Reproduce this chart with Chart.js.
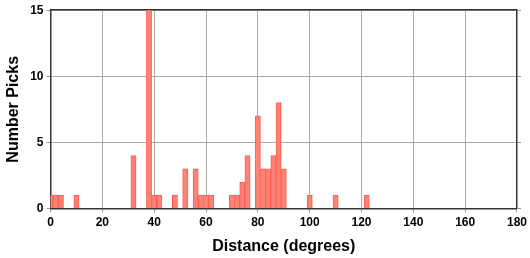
<!DOCTYPE html>
<html>
<head>
<meta charset="utf-8">
<script src="https://cdn.jsdelivr.net/npm/chart.js@4"></script>
<style>
  body { margin: 0; background: #fff; }
  #wrap { width: 530px; height: 258px; }
</style>
</head>
<body>
<div id="wrap"><canvas id="myChart"></canvas></div>
<script>
// histogram bins (2 degree wide, centred on even degrees)
const binCentres = [0, 2, 4, 10, 32, 38, 40, 42, 48, 52, 56, 58, 60, 62, 70, 72, 74, 76, 80, 82, 84, 86, 88, 90, 100, 110, 122];
const picks      = [1, 1, 1, 1, 4, 15, 1, 1, 1, 3, 3, 1, 1, 1, 1, 1, 2, 4, 7, 3, 3, 4, 8, 3, 1, 1, 1];
const xTicks = [0, 20, 40, 60, 80, 100, 120, 140, 160, 180];
const yTicks = [0, 5, 10, 15];

const tickFont = { family: 'Liberation Sans', size: 12, weight: 'bold' };
const titleFont = { family: 'Liberation Sans', size: 16, weight: 'bold' };

const points = binCentres.map(function (c, i) {
  return { x: c, y: picks[i] };
});

const frame = { color: '#333', width: 1.5 };

const config = {
  type: 'bar',
  data: {
    datasets: [{
      data: points,
      backgroundColor: '#ff8275',
      borderColor: '#ff5e52',
      borderWidth: 1,
      borderSkipped: 'bottom',
      barPercentage: 1,
      categoryPercentage: 1,
      grouped: false
    }]
  },
  options: {
    responsive: true,
    maintainAspectRatio: false,
    animation: false,
    layout: { autoPadding: false, padding: { top: 4, right: 7, left: 4, bottom: 0 } },
    plugins: { legend: { display: false }, tooltip: { enabled: false } },
    scales: {
      x: {
        type: 'linear',
        offset: false,
        min: 0, max: 180,
        afterBuildTicks: function (s) { s.ticks = xTicks.map(function (v) { return { value: v }; }); },
        ticks: { font: tickFont, color: '#000', padding: 3, maxRotation: 0 },
        grid: { color: '#aaa', tickLength: 4, tickColor: '#999', offset: false },
        border: frame,
        title: { display: true, text: 'Distance (degrees)', font: titleFont, color: '#000', padding: { top: 4, bottom: 2 } }
      },
      x2: {
        type: 'linear', position: 'top',
        offset: false,
        min: 0, max: 180,
        afterBuildTicks: function (s) { s.ticks = xTicks.map(function (v) { return { value: v }; }); },
        ticks: { display: false },
        grid: { drawOnChartArea: false, drawTicks: false, tickLength: 0, offset: false },
        border: frame
      },
      y: {
        min: 0, max: 15,
        afterBuildTicks: function (s) { s.ticks = yTicks.map(function (v) { return { value: v }; }); },
        ticks: { font: tickFont, color: '#000', padding: 3 },
        grid: { color: '#aaa', tickLength: 4, tickColor: '#999' },
        border: frame,
        title: { display: true, text: 'Number Picks', font: titleFont, color: '#000', padding: { top: 0, bottom: 4 } }
      },
      y2: {
        position: 'right',
        min: 0, max: 15,
        afterBuildTicks: function (s) { s.ticks = yTicks.map(function (v) { return { value: v }; }); },
        ticks: { display: false },
        grid: { drawOnChartArea: false, tickLength: 4, tickColor: '#999' },
        border: frame
      }
    }
  }
};

new Chart(document.getElementById('myChart'), config);
</script>
</body>
</html>
